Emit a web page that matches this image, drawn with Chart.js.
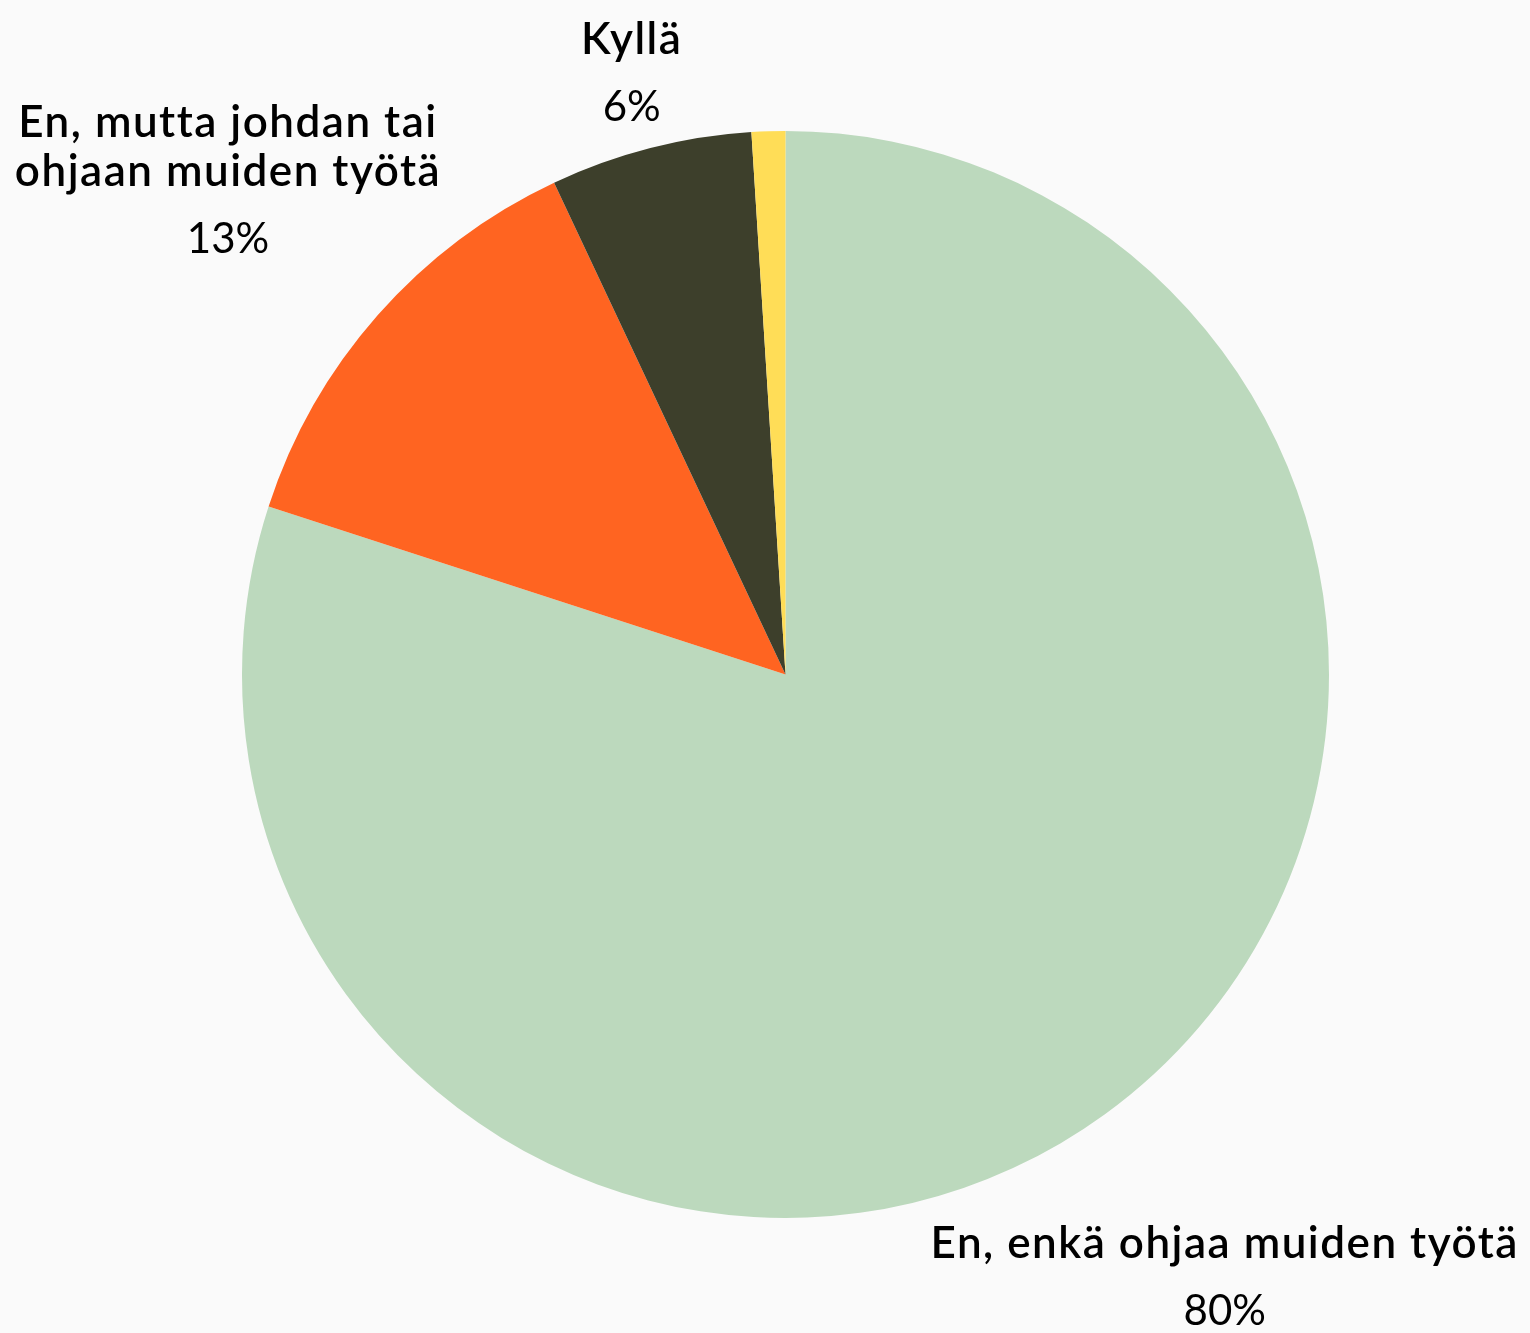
<!DOCTYPE html>
<html>
<head>
<meta charset="utf-8">
<script src="https://cdn.jsdelivr.net/npm/chart.js@4"></script>
<style>
  html, body { margin: 0; padding: 0; background: #fafafa; }
  #wrap { width: 1530px; height: 1333px; position: relative; }
</style>
</head>
<body>
<div id="wrap"><canvas id="c" width="1530" height="1333"></canvas></div>
<script>
// ---- data ----
const categories = [
  ["En, enkä ohjaa muiden työtä"],
  ["En, mutta johdan tai", "ohjaan muiden työtä"],
  ["Kyllä"],
  ["En osaa sanoa"]
];
const values = [80, 13, 6, 1];
const colors = ["#bcd9bd", "#ff6421", "#3d3f2b", "#ffdd57"];
const labelMin = 3; // slices below this share get no label

const nameFont = '600 44px Lato, "Noto Sans", sans-serif';
const pctFont = '400 42px Lato, "Noto Sans", sans-serif';

const labelPlugin = {
  id: 'outerLabels',
  afterDatasetsDraw(chart) {
    const ctx = chart.ctx;
    const meta = chart.getDatasetMeta(0);
    const total = values.reduce((a, b) => a + b, 0);
    meta.data.forEach((arc, i) => {
      const v = values[i];
      if (v / total * 100 < labelMin) return;
      const p = arc.getProps(['x', 'y', 'startAngle', 'endAngle', 'outerRadius'], true);
      const mid = (p.startAngle + p.endAngle) / 2;
      const lines = categories[i];
      ctx.save();
      ctx.font = nameFont;
      ctx.letterSpacing = '1.5px';
      let w = 0;
      lines.forEach(l => { w = Math.max(w, ctx.measureText(l).width); });
      ctx.font = pctFont;
      ctx.letterSpacing = '0px';
      const pct = Math.round(v / total * 100) + '%';
      w = Math.max(w, ctx.measureText(pct).width);
      const lineH = 49, pctGap = 67;
      const H = (lines.length - 1) * lineH + pctGap + 40;
      const dx = Math.cos(mid), dy = Math.sin(mid);
      const ext = (w / 2) * Math.abs(dx) + (H / 2) * Math.abs(dy);
      const d = p.outerRadius + 0.85 * ext + 20;
      let cx = p.x + dx * d;
      const cy = p.y + dy * d;
      cx = Math.min(cx, chart.width - 10 - w / 2);
      cx = Math.max(cx, 10 + w / 2);
      ctx.fillStyle = '#000';
      ctx.textAlign = 'center';
      ctx.textBaseline = 'alphabetic';
      let y = cy - H / 2 + 32;
      ctx.font = nameFont;
      ctx.letterSpacing = '1.5px';
      lines.forEach((l, k) => {
        ctx.fillText(l, cx, y);
        if (k < lines.length - 1) y += lineH;
      });
      y += pctGap;
      ctx.font = pctFont;
      ctx.letterSpacing = '0px';
      ctx.fillText(pct, cx, y);
      ctx.restore();
    });
  }
};

new Chart(document.getElementById('c'), {
  type: 'pie',
  data: {
    labels: categories,
    datasets: [{
      data: values,
      backgroundColor: colors,
      borderWidth: 0
    }]
  },
  options: {
    responsive: false,
    animation: false,
    layout: { padding: { top: 131, bottom: 115, left: 242, right: 201 } },
    plugins: {
      legend: { display: false },
      tooltip: { enabled: false }
    }
  },
  plugins: [labelPlugin]
});
</script>
</body>
</html>
